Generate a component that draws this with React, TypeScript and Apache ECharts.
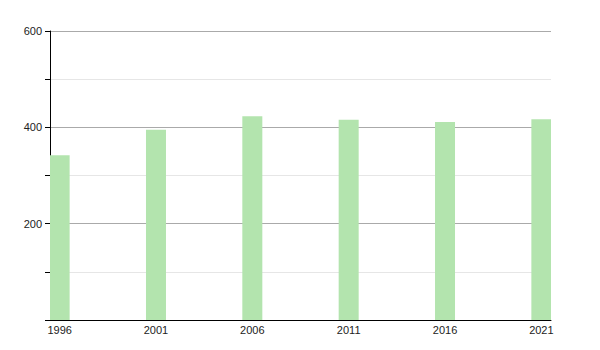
import React, { useEffect, useRef } from "react";
import * as echarts from "echarts";

const censusYears = [1996, 2001, 2006, 2011, 2016, 2021];
const populationValues = [342, 395, 423, 416, 411, 417];
const firstYear = 1996;
const lastYear = 2021;
const yTickLabels = [200, 400, 600];

export default function App() {
  const ref = useRef<HTMLDivElement>(null);
  useEffect(() => {
    if (!ref.current) return;
    const chart = echarts.init(ref.current, undefined, { renderer: "svg" });
    const years: string[] = [];
    for (let y = firstYear; y <= lastYear; y++) years.push(String(y));
    const data = years.map((y) => {
      const i = censusYears.indexOf(Number(y));
      return i >= 0 ? populationValues[i] : null;
    });
    chart.setOption({
      animation: false,
      grid: { left: 50, right: 49, top: 31, bottom: 30, containLabel: false },
      xAxis: {
        type: "category",
        data: years,
        boundaryGap: true,
        axisLine: { show: true, lineStyle: { color: "#000", width: 1 } },
        axisTick: { show: false },
        axisLabel: {
          interval: 4,
          color: "#222",
          fontSize: 11,
          fontFamily: "Liberation Sans, Arial, sans-serif",
          margin: 4,
        },
        splitLine: { show: false },
      },
      yAxis: {
        type: "value",
        min: 0,
        max: 600,
        interval: 100,
        axisLine: { show: true, lineStyle: { color: "#000", width: 1 } },
        axisTick: { show: true, length: 5, lineStyle: { color: "#000" } },
        axisLabel: {
          color: "#222",
          fontSize: 11,
          fontFamily: "Liberation Sans, Arial, sans-serif",
          margin: 8,
          formatter: (v: number) => (yTickLabels.includes(v) ? String(v) : ""),
        },
        splitLine: {
          show: true,
          lineStyle: { color: ["#aaaaaa", "#e6e6e6"], width: 1 },
        },
      },
      series: [
        {
          type: "bar",
          data,
          barWidth: 20,
          itemStyle: { color: "#b3e4ae" },
        },
      ],
    });
    return () => chart.dispose();
  }, []);
  return (
    <div
      ref={ref}
      style={{ position: "absolute", left: 0, top: 0, width: 600, height: 350 }}
    />
  );
}
